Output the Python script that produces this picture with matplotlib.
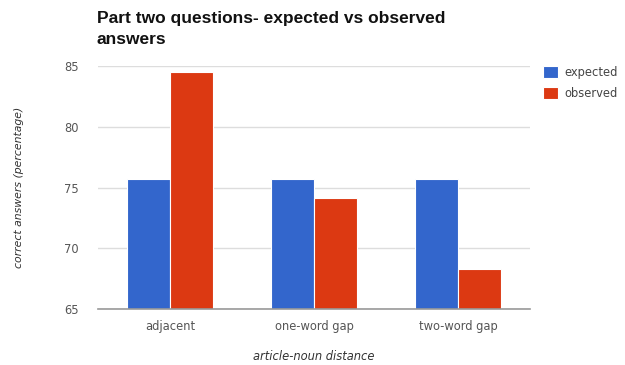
import numpy as np
import matplotlib.pyplot as plt

plt.rcParams['font.family'] = ['DejaVu Sans']

categories = ['adjacent', 'one-word gap', 'two-word gap']
expected = [75.7, 75.7, 75.7]
observed = [84.5, 74.2, 68.3]
yticks = [65, 70, 75, 80, 85]

fig = plt.figure(figsize=(6.25, 3.65), dpi=100)
ax = fig.add_axes([0.157, 0.153, 0.691, 0.665])

x = np.arange(len(categories))
w = 0.3
ax.bar(x - w / 2, expected, width=w, color='#3366cc', edgecolor='white',
       linewidth=0.8, label='expected', zorder=3)
ax.bar(x + w / 2, observed, width=w, color='#dc3912', edgecolor='white',
       linewidth=0.8, label='observed', zorder=3)

ax.set_xlim(-0.5, 2.5)
ax.set_ylim(65, 85)
ax.set_yticks(yticks)
ax.set_xticks(x)
ax.set_xticklabels(categories)
ax.tick_params(length=0, labelsize=8.3, colors='#555555', pad=8)
ax.tick_params(axis='y', pad=14)
ax.yaxis.grid(True, color='#dddddd', linewidth=1, zorder=0)
for side in ['top', 'right', 'left']:
    ax.spines[side].set_visible(False)
ax.spines['bottom'].set_color('#999999')
ax.spines['bottom'].set_linewidth(1.2)
ax.spines['bottom'].set_zorder(4)

ax.set_xlabel('article-noun distance', fontsize=8.3, style='italic',
              color='#333333', labelpad=12)
ax.set_ylabel('correct answers (percentage)', fontsize=7.8, style='italic',
              color='#333333', labelpad=29)

fig.text(0.155, 0.97, 'Part two questions- expected vs observed\nanswers',
         fontsize=12.5, fontweight='bold', color='#111111', va='top',
         linespacing=1.5, family='Liberation Sans')

ax.legend(loc='upper left', bbox_to_anchor=(1.005, 1.045), frameon=False,
          fontsize=8.3, handlelength=1.3, handleheight=1.3,
          handletextpad=0.6, labelspacing=0.65, labelcolor='#444444')

fig.savefig('out.png', dpi=100)
